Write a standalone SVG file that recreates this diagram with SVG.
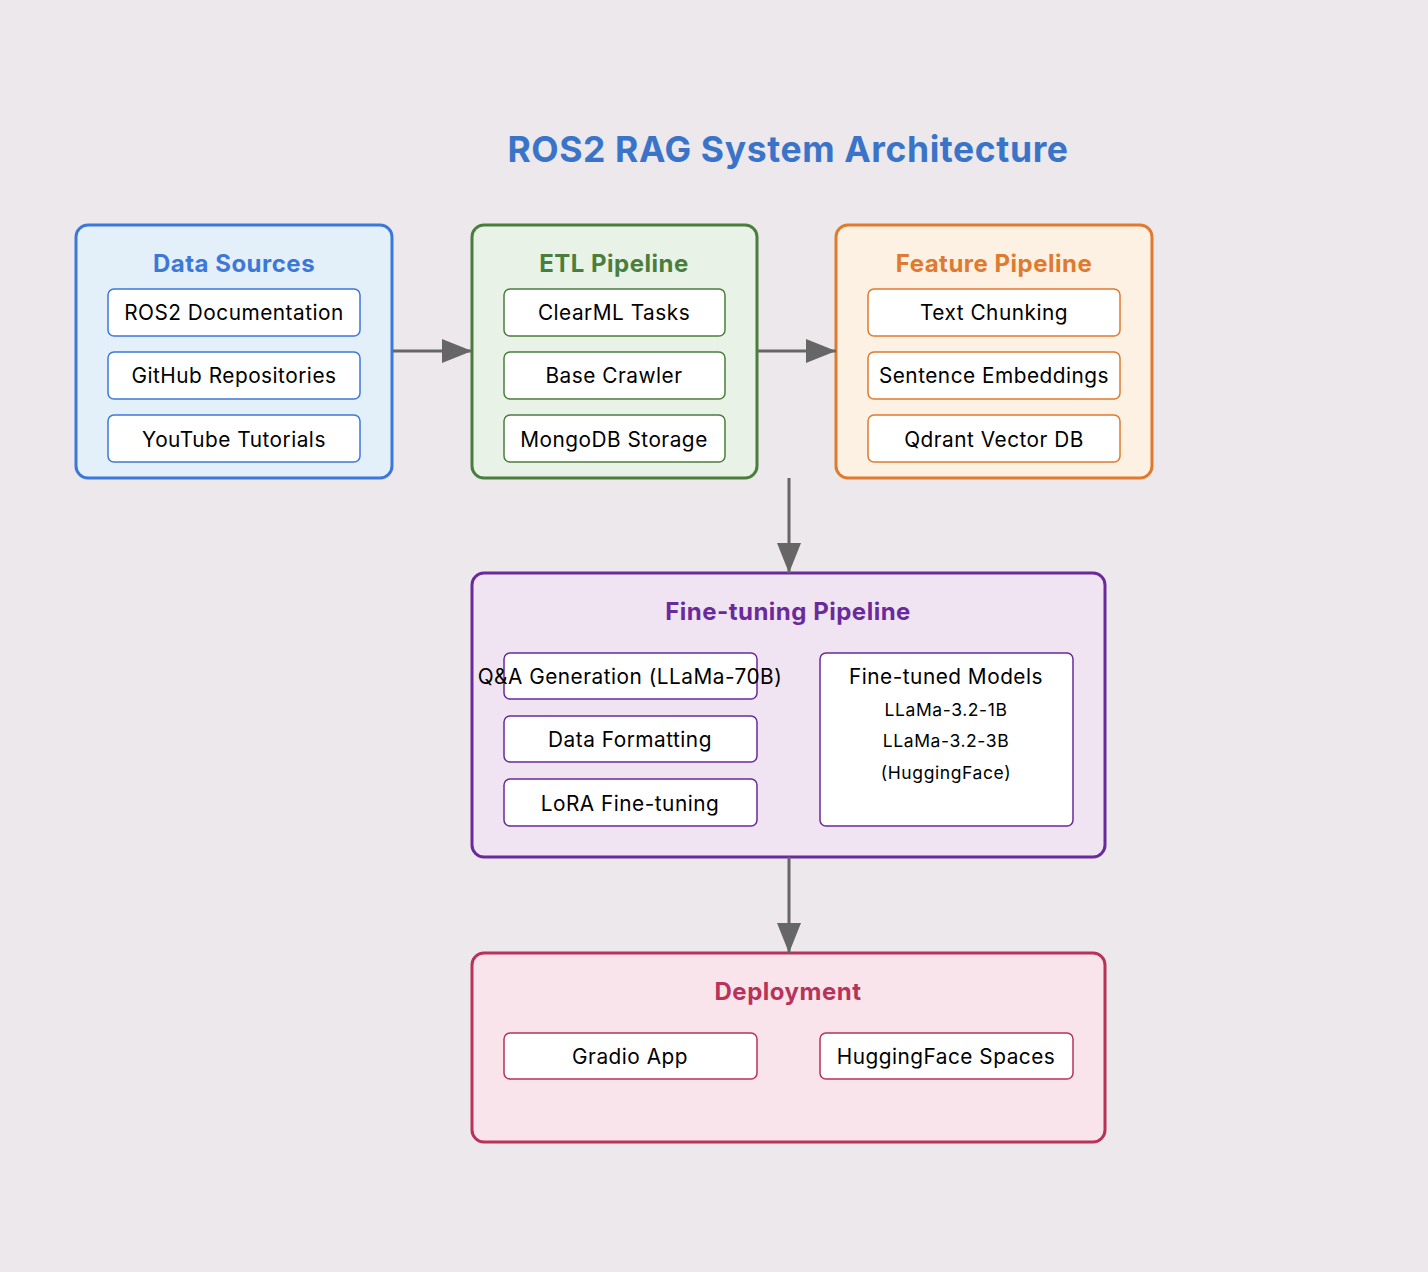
<svg xmlns="http://www.w3.org/2000/svg" width="1428" height="1272" viewBox="0 0 1428 1272">
<defs>
<marker id="ah" markerWidth="10" markerHeight="8" refX="10" refY="4" orient="auto" markerUnits="strokeWidth">
<path d="M0,0 L10,4 L0,8 Z" fill="#666666"/>
</marker>
<style>
text{font-family:Inter,"Liberation Sans",sans-serif;text-anchor:middle}
.title{font-size:35.5px;font-weight:bold;fill:#3a74c9;letter-spacing:0.6px}
.h{font-size:24px;font-weight:bold;letter-spacing:0.5px}
.t{font-size:20.8px;fill:#000;letter-spacing:0.5px}
.s{font-size:17.5px;fill:#000;letter-spacing:0.6px}
.grp{stroke-width:3}
.item{fill:#ffffff;stroke-width:1.5}
.conn{stroke:#666666;stroke-width:3;fill:none;marker-end:url(#ah)}
.blue .grp{fill:#e3eff9;stroke:#3c78d8}.blue .item{stroke:#3c78d8}.blue .h{fill:#3c78d8}
.green .grp{fill:#e8f2e6;stroke:#4a7e3c}.green .item{stroke:#4a7e3c}.green .h{fill:#4a7e3c}
.orange .grp{fill:#fcf1e2;stroke:#e07a2e}.orange .item{stroke:#e07a2e}.orange .h{fill:#e07a2e}
.purple .grp{fill:#f0e3f2;stroke:#6a2a9c}.purple .item{stroke:#6a2a9c}.purple .h{fill:#6a2a9c}
.red .grp{fill:#f8e4ea;stroke:#b8325a}.red .item{stroke:#b8325a}.red .h{fill:#b8325a}
</style>
</defs>
<rect width="1428" height="1272" fill="#ede8ec"/>
<text class="title" x="788" y="162">ROS2 RAG System Architecture</text>

<g id="data-sources" class="blue">
<rect class="grp" x="76" y="225" width="316" height="253" rx="12"/>
<text class="h" x="234" y="272">Data Sources</text>
<rect class="item" x="108" y="289" width="252" height="47" rx="6"/>
<text class="t" x="234" y="320">ROS2 Documentation</text>
<rect class="item" x="108" y="352" width="252" height="47" rx="6"/>
<text class="t" x="234" y="383">GitHub Repositories</text>
<rect class="item" x="108" y="415" width="252" height="47" rx="6"/>
<text class="t" x="234" y="447">YouTube Tutorials</text>
</g>

<g id="etl-pipeline" class="green">
<rect class="grp" x="472" y="225" width="285" height="253" rx="12"/>
<text class="h" x="614" y="272">ETL Pipeline</text>
<rect class="item" x="504" y="289" width="221" height="47" rx="6"/>
<text class="t" x="614" y="320">ClearML Tasks</text>
<rect class="item" x="504" y="352" width="221" height="47" rx="6"/>
<text class="t" x="614" y="383">Base Crawler</text>
<rect class="item" x="504" y="415" width="221" height="47" rx="6"/>
<text class="t" x="614" y="447">MongoDB Storage</text>
</g>

<g id="feature-pipeline" class="orange">
<rect class="grp" x="836" y="225" width="316" height="253" rx="12"/>
<text class="h" x="994" y="272">Feature Pipeline</text>
<rect class="item" x="868" y="289" width="252" height="47" rx="6"/>
<text class="t" x="994" y="320">Text Chunking</text>
<rect class="item" x="868" y="352" width="252" height="47" rx="6"/>
<text class="t" x="994" y="383">Sentence Embeddings</text>
<rect class="item" x="868" y="415" width="252" height="47" rx="6"/>
<text class="t" x="994" y="447">Qdrant Vector DB</text>
</g>

<g id="fine-tuning-pipeline" class="purple">
<rect class="grp" x="472" y="573" width="633" height="284" rx="12"/>
<text class="h" x="788" y="620">Fine-tuning Pipeline</text>
<rect class="item" x="504" y="653" width="253" height="46" rx="6"/>
<text class="t" x="630" y="684">Q&amp;A Generation (LLaMa-70B)</text>
<rect class="item" x="504" y="716" width="253" height="46" rx="6"/>
<text class="t" x="630" y="747">Data Formatting</text>
<rect class="item" x="504" y="779" width="253" height="47" rx="6"/>
<text class="t" x="630" y="811">LoRA Fine-tuning</text>
<rect class="item" x="820" y="653" width="253" height="173" rx="6"/>
<text class="t" x="946" y="684">Fine-tuned Models</text>
<text class="s" x="946" y="716">LLaMa-3.2-1B</text>
<text class="s" x="946" y="747">LLaMa-3.2-3B</text>
<text class="s" x="946" y="779">(HuggingFace)</text>
</g>

<g id="deployment" class="red">
<rect class="grp" x="472" y="953" width="633" height="189" rx="12"/>
<text class="h" x="788" y="1000">Deployment</text>
<rect class="item" x="504" y="1033" width="253" height="46" rx="6"/>
<text class="t" x="630" y="1064">Gradio App</text>
<rect class="item" x="820" y="1033" width="253" height="46" rx="6"/>
<text class="t" x="946" y="1064">HuggingFace Spaces</text>
</g>

<g id="connectors">
<line class="conn" x1="393" y1="351" x2="472" y2="351"/>
<line class="conn" x1="757" y1="351" x2="836" y2="351"/>
<line class="conn" x1="789" y1="478" x2="789" y2="573"/>
<line class="conn" x1="789" y1="857" x2="789" y2="953"/>
</g>
</svg>
